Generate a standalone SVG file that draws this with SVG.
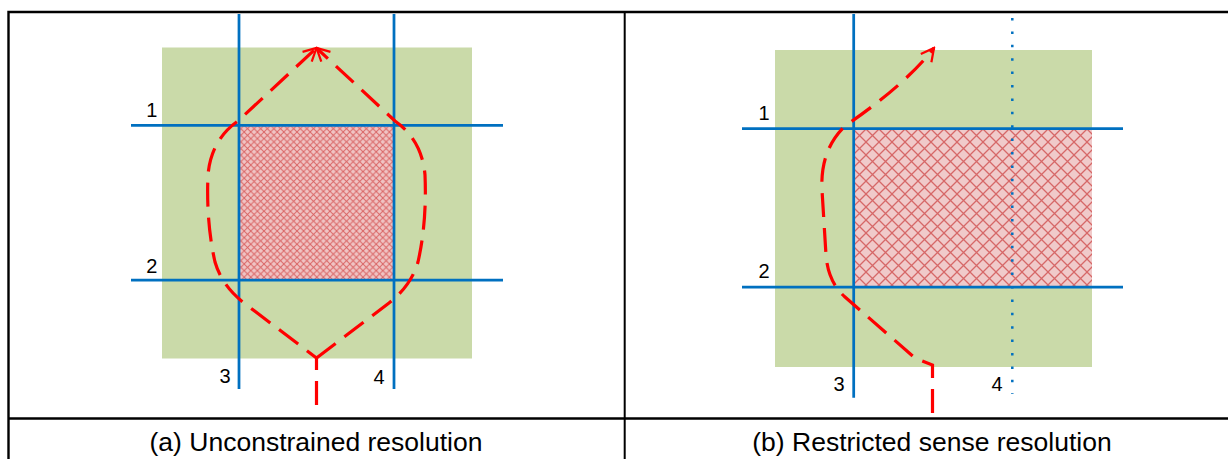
<svg xmlns="http://www.w3.org/2000/svg" width="1228" height="459" viewBox="0 0 1228 459">
  <defs>
    <style>
      .frame { stroke: #000; fill: none; }
      .field { fill: #CADAA9; }
      .blue { stroke: #0070C0; stroke-width: 2.75; fill: none; }
      .dotted { stroke: #0070C0; stroke-width: 2.5; stroke-dasharray: 2.5 10.9; fill: none; }
      .route { stroke: #FF0000; stroke-width: 3.2; fill: none; stroke-dasharray: 24 11; marker-end: url(#arr); }
      .num { font-family: "Liberation Sans", Arial, sans-serif; font-size: 20px; fill: #000; text-anchor: middle; }
      .cap { font-family: "Liberation Sans", Arial, sans-serif; font-size: 26.5px; fill: #000; text-anchor: middle; }
    </style>
    <pattern id="hatchA" patternUnits="userSpaceOnUse" width="6.6" height="6.6">
      <rect width="6.6" height="6.6" fill="#F0C4C4"/>
      <path d="M0,0 L6.6,6.6 M6.6,0 L0,6.6" stroke="#D96464" stroke-width="1"/>
    </pattern>
    <pattern id="hatchB" patternUnits="userSpaceOnUse" width="13" height="13" x="853" y="129">
      <rect width="13" height="13" fill="#F0CACA"/>
      <path d="M0,0 L13,13 M13,0 L0,13" stroke="#D66868" stroke-width="1.3"/>
    </pattern>
    <marker id="arr" viewBox="0 0 10 10" refX="9" refY="5" markerWidth="5" markerHeight="5" orient="auto" markerUnits="strokeWidth">
      <path d="M1,0.8 L9,5 L1,9.2" fill="none" stroke="#FF0000" stroke-width="1.4" stroke-dasharray="none"/>
    </marker>
  </defs>

  <g id="table">
    <path class="frame" stroke-width="2.4" d="M8.5,459 L8.5,12 L1228,12"/>
    <path class="frame" stroke-width="2" d="M624.7,12 L624.7,459"/>
    <path class="frame" stroke-width="2.5" d="M8.5,418.5 L1228,418.5"/>
  </g>

  <g id="panel-a">
    <rect class="field" x="162" y="47.5" width="310" height="311"/>
    <rect x="239" y="125.3" width="155" height="154.7" fill="url(#hatchA)"/>
    <g id="a-lines">
      <line class="blue" x1="131" y1="125.3" x2="503" y2="125.3"/>
      <line class="blue" x1="131" y1="280" x2="503" y2="280"/>
      <line class="blue" x1="239" y1="14" x2="239" y2="389"/>
      <line class="blue" x1="394" y1="14" x2="394" y2="389"/>
    </g>
    <text class="num" x="151.7" y="116.5">1</text>
    <text class="num" x="151.7" y="272.5">2</text>
    <text class="num" x="225" y="382.5">3</text>
    <text class="num" x="379" y="383.5">4</text>
  </g>

  <g id="panel-b">
    <rect class="field" x="775" y="50" width="317" height="317"/>
    <rect x="853.7" y="128.7" width="238.3" height="158.3" fill="url(#hatchB)"/>
    <g id="b-lines">
      <line class="blue" x1="742" y1="128.7" x2="1123" y2="128.7"/>
      <line class="blue" x1="742" y1="287" x2="1123" y2="287"/>
      <line class="blue" x1="853.7" y1="14" x2="853.7" y2="397.7"/>
      <line class="dotted" x1="1012.3" y1="18" x2="1012.3" y2="394"/>
    </g>
    <text class="num" x="764" y="119.5">1</text>
    <text class="num" x="764" y="277.5">2</text>
    <text class="num" x="839" y="390.5">3</text>
    <text class="num" x="997" y="390.5">4</text>
  </g>

  <g id="connectors">
    <path class="route" d="M316.5,405 L316.5,358 L244,303 Q222,286 215,262 Q206,222 208,175 Q211,140 238,121 L316.5,48"/>
    <path class="route" d="M316.5,358 L389,303 Q411,286 418,262 Q427,222 425,175 Q422,140 395,121 L316.5,48"/>
    <path class="route" d="M932.5,413 L932.5,365 L915,358 L845,297 Q828,282 826,255 L822,190 Q820,150 845,126 Q905,85 934,48"/>
  </g>

  <g id="captions">
    <text class="cap" x="316" y="451">(a) Unconstrained resolution</text>
    <text class="cap" x="932" y="451">(b) Restricted sense resolution</text>
  </g>
</svg>
